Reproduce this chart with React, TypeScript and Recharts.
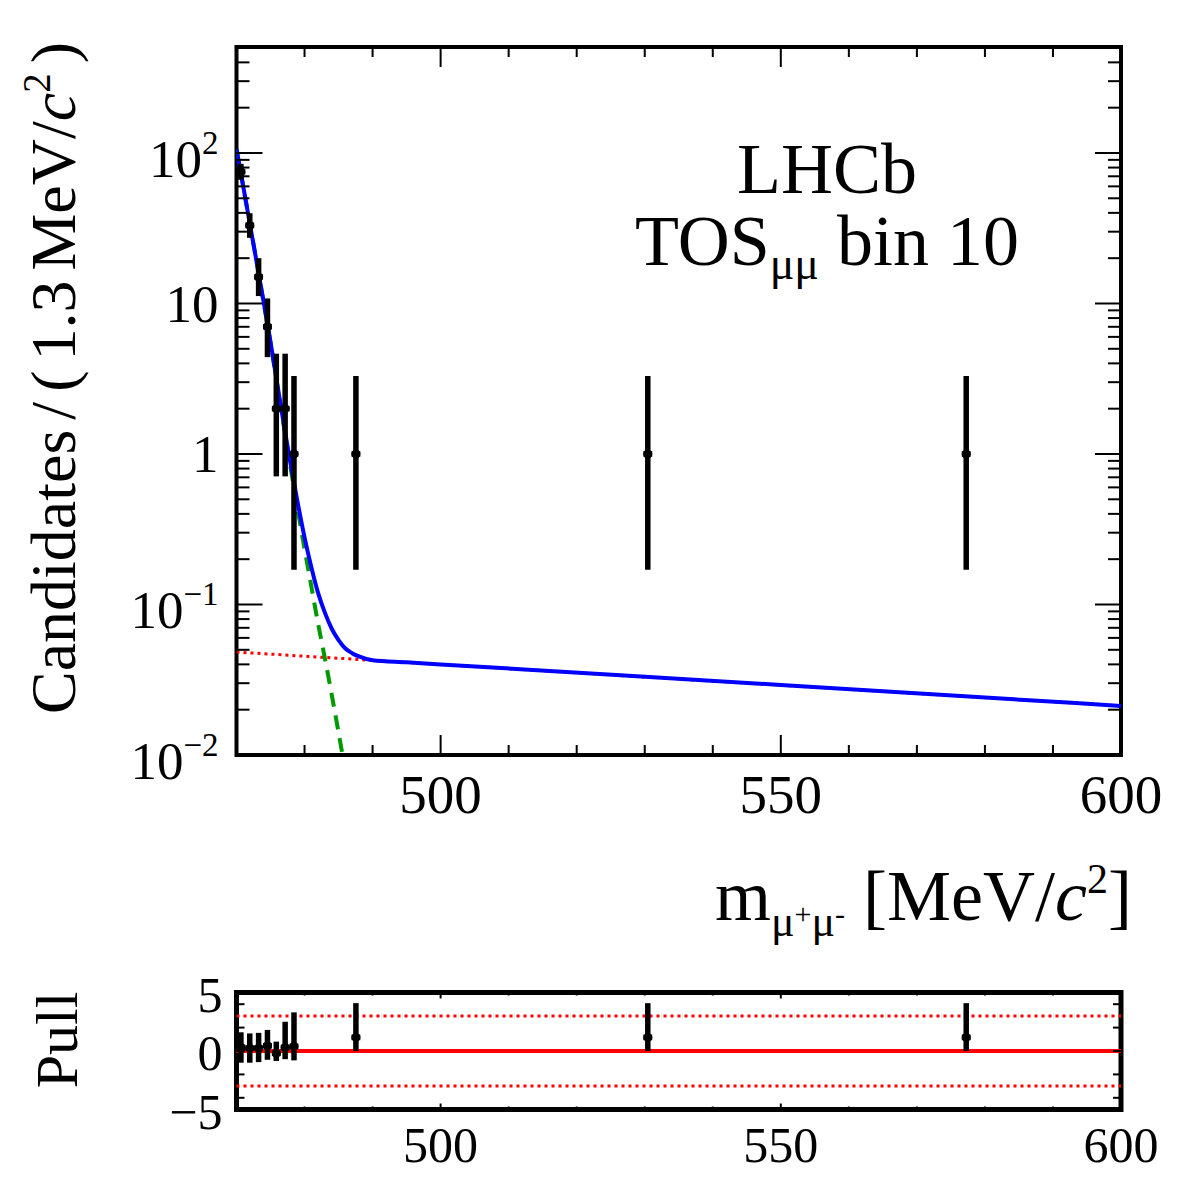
import React from 'react';
import {
  ComposedChart,
  Line,
  Scatter,
  XAxis,
  YAxis,
  ErrorBar,
  ReferenceArea,
  ReferenceLine,
} from 'recharts';

const FONT = '"Liberation Serif", "Times New Roman", Times, serif';

// data: 1.3 MeV bins, only the non-empty ones
const binCentres = [470.65, 471.95, 473.25, 474.55, 475.85, 477.15, 478.45, 487.55, 530.45, 577.25];
const counts = [75, 33, 15, 7, 2, 2, 1, 1, 1, 1];
const countErrLo = [8.6, 5.7, 3.8, 2.6, 1.29, 1.29, 0.83, 0.83, 0.83, 0.83];
const countErrHi = [9.7, 6.8, 5.0, 3.8, 2.64, 2.64, 2.3, 2.3, 2.3, 2.3];
const binHalfWidth = 0.65;

// pulls of the same bins
const pulls = [0.3, 0.25, 0.25, 0.45, -0.2, 0.3, 0.4, 1.16, 1.16, 1.16];
const pullErrLo = [1.3, 1.25, 1.2, 1.2, 0.65, 1.0, 1.2, 1.16, 1.16, 1.16];
const pullErrHi = [1.3, 1.25, 1.3, 1.35, 1.0, 2.2, 2.9, 2.93, 2.93, 2.93];

// fit components
const totalMass = [470, 471, 472, 473, 474, 475, 476, 477, 478, 479, 480, 481, 482, 483, 484, 485, 486, 487, 488, 490, 495, 500, 550, 600];
const totalVal = [106, 59.6, 33.1, 18.4, 10.15, 5.55, 2.9, 1.53, 0.831, 0.473, 0.279, 0.177, 0.119, 0.088, 0.069, 0.058, 0.051, 0.0475, 0.0452, 0.0426, 0.0413, 0.04, 0.0292, 0.0212];
const sigMass = [470, 471, 472, 473, 474, 475, 476, 477, 478, 479, 480, 481, 482, 483, 484, 485, 486, 487];
const sigVal = [106, 59.6, 33.1, 18.4, 10.1, 5.5, 2.85, 1.48, 0.785, 0.427, 0.234, 0.132, 0.0741, 0.0437, 0.0251, 0.0141, 0.0078, 0.0043];
const bkgMass = [470, 600];
const bkgVal = [0.0483, 0.0212];

// axis ticks
const X_TICKS = [470, 480, 490, 500, 510, 520, 530, 540, 550, 560, 570, 580, 590, 600];
const X_LABELLED = [500, 550, 600];
const Y_DECADES = [0.01, 0.1, 1, 10, 100];
const Y_DECADE_LABELS = [['10', '\u22122'], ['10', '\u22121'], ['1', ''], ['10', ''], ['10', '2']];
const Y_MAX = 506;
const PULL_Y_TICKS = [-5, -4, -2, 0, 2, 4, 5];
const PULL_Y_LABELLED = [-5, 0, 5];

const Y_TICKS: number[] = [];
Y_DECADES.forEach((d) => {
  for (let k = 1; k <= 9; k++) {
    const t = Number((d * k).toPrecision(3));
    if (t <= Y_MAX) Y_TICKS.push(t);
  }
});

const points = binCentres.map((m, i) => ({ m, v: counts[i], ey: [countErrLo[i], countErrHi[i]], ex: binHalfWidth }));
const pullPoints = binCentres.map((m, i) => ({ m, v: pulls[i], ey: [pullErrLo[i], pullErrHi[i]], ex: binHalfWidth }));
const totalCurve = totalMass.map((m, i) => ({ m, v: totalVal[i] }));
const sigCurve = sigMass.map((m, i) => ({ m, v: sigVal[i] }));
const bkgCurve = bkgMass.map((m, i) => ({ m, v: bkgVal[i] }));

// geometry (axes get 1px of room so recharts still draws their ticks)
const W = 1182;
const LEFT = 236.5;
const RIGHT = 1121;
const MAIN_TOP = 47;
const MAIN_BOTTOM = 755;
const MAIN_H = MAIN_BOTTOM - MAIN_TOP;
const MAIN_CHART_H = 830;
const PLOT_W = RIGHT - LEFT;
const PULL_Y0 = 960;
const PULL_TOP = 992.5;
const PULL_BOTTOM = 1109.5;
const PULL_H = PULL_BOTTOM - PULL_TOP;
const PULL_CHART_H = 222;

const Marker = (p: any) => <circle cx={p.cx} cy={p.cy} r={4.5} fill="#000" />;

const MainXTick = ({ x, y, payload }: any) => {
  const v = payload.value as number;
  const major = X_LABELLED.includes(v);
  const len = major ? 20 : 10;
  return (
    <g>
      <line x1={x} x2={x} y1={y} y2={y - len} stroke="#000" strokeWidth={2} />
      <line x1={x} x2={x} y1={y - MAIN_H} y2={y - MAIN_H + len} stroke="#000" strokeWidth={2} />
      {major && (
        <text x={x} y={y + 58} textAnchor="middle" fontFamily={FONT} fontSize={55} fill="#000">
          {v}
        </text>
      )}
    </g>
  );
};

const MainYTick = ({ x, y, payload }: any) => {
  const v = payload.value as number;
  const idx = Y_DECADES.findIndex((d) => Math.abs(d - v) / d < 1e-6);
  const major = idx >= 0;
  const len = major ? 26 : 13;
  const lab = major ? Y_DECADE_LABELS[idx] : null;
  return (
    <g>
      <line x1={x} x2={x + len} y1={y} y2={y} stroke="#000" strokeWidth={2} />
      <line x1={x + PLOT_W} x2={x + PLOT_W - len} y1={y} y2={y} stroke="#000" strokeWidth={2} />
      {lab && (
        <text x={x - 18} y={y + (lab[1] ? 24 : 18.5)} textAnchor="end" fontFamily={FONT} fontSize={53} fill="#000">
          {lab[0]}
          {lab[1] && (
            <tspan dy={-23} fontSize={33}>
              {lab[1]}
            </tspan>
          )}
        </text>
      )}
    </g>
  );
};

const PullXTick = ({ x, y, payload }: any) => {
  const v = payload.value as number;
  const major = X_LABELLED.includes(v);
  const len = major ? 6 : 3;
  return (
    <g>
      <line x1={x} x2={x} y1={y} y2={y - len} stroke="#000" strokeWidth={2} />
      <line x1={x} x2={x} y1={y - PULL_H} y2={y - PULL_H + len} stroke="#000" strokeWidth={2} />
      {major && (
        <text x={x} y={y + 52} textAnchor="middle" fontFamily={FONT} fontSize={50} fill="#000">
          {v}
        </text>
      )}
    </g>
  );
};

const PullYTick = ({ x, y, payload }: any) => {
  const v = payload.value as number;
  const edge = Math.abs(v) === 5;
  return (
    <g>
      {!edge && <line x1={x} x2={x + 8} y1={y} y2={y} stroke="#000" strokeWidth={2} />}
      {!edge && <line x1={x + PLOT_W} x2={x + PLOT_W - 8} y1={y} y2={y} stroke="#000" strokeWidth={2} />}
      {PULL_Y_LABELLED.includes(v) && (
        <text x={x - 14} y={y + 19} textAnchor="end" fontFamily={FONT} fontSize={50} fill="#000">
          {v < 0 ? '\u2212' + Math.abs(v) : v}
        </text>
      )}
    </g>
  );
};

const Labels = () => (
  <svg width={W} height={W} style={{ position: 'absolute', left: 0, top: 0, pointerEvents: 'none' }}>
    <g fontFamily={FONT} fill="#000">
      <text x={827} y={193} textAnchor="middle" fontSize={72}>LHCb</text>
      <text x={827} y={265} textAnchor="middle" fontSize={72}>
        TOS
        <tspan dy={14} fontSize={46}>μμ</tspan>
        <tspan dy={-14}> bin 10</tspan>
      </text>
      <text x={1132} y={920} textAnchor="end" fontSize={72}>
        m
        <tspan dy={16} fontSize={44}>μ</tspan>
        <tspan dy={-12} fontSize={30}>+</tspan>
        <tspan dy={12} fontSize={44}>μ</tspan>
        <tspan dy={-12} fontSize={30}>-</tspan>
        <tspan dy={-4}> [MeV/</tspan>
        <tspan fontStyle="italic">c</tspan>
        <tspan dy={-27} fontSize={42}>2</tspan>
        <tspan dy={27}>]</tspan>
      </text>
      <text transform="translate(75,378) rotate(-90)" textAnchor="middle" fontSize={64} wordSpacing={-6}>
        Candidates / ( 1.3 MeV/
        <tspan fontStyle="italic">c</tspan>
        <tspan dy={-25} fontSize={39}>2</tspan>
        <tspan dy={25}> )</tspan>
      </text>
      <text transform="translate(77,1040) rotate(-90)" textAnchor="middle" fontSize={60}>Pull</text>
    </g>
  </svg>
);

const App = () => {
  return (
    <div style={{ position: 'absolute', left: 0, top: 0, width: W, height: W, background: '#fff' }}>
      <div style={{ position: 'absolute', left: 0, top: 0 }}>
        <ComposedChart
          width={W}
          height={MAIN_CHART_H}
          margin={{ top: MAIN_TOP, left: LEFT - 1, right: W - RIGHT, bottom: MAIN_CHART_H - MAIN_BOTTOM - 1 }}
        >
          <XAxis
            dataKey="m"
            type="number"
            domain={[470, 600]}
            allowDataOverflow
            ticks={X_TICKS}
            interval={0}
            height={1}
            tickSize={0}
            tickMargin={0}
            axisLine={false}
            tickLine={false}
            tick={<MainXTick />}
          />
          <YAxis
            dataKey="v"
            type="number"
            scale="log"
            domain={[0.01, Y_MAX]}
            allowDataOverflow
            ticks={Y_TICKS}
            interval={0}
            width={1}
            tickSize={0}
            tickMargin={0}
            axisLine={false}
            tickLine={false}
            tick={<MainYTick />}
          />
          <Line data={bkgCurve} dataKey="v" type="linear" stroke="#ff0000" strokeWidth={3} strokeDasharray="3 4" dot={false} isAnimationActive={false} />
          <Line data={sigCurve} dataKey="v" type="monotone" stroke="#009900" strokeWidth={4} strokeDasharray="14 9" dot={false} isAnimationActive={false} />
          <Line data={totalCurve} dataKey="v" type="monotone" stroke="#0000ff" strokeWidth={4} dot={false} isAnimationActive={false} />
          <Scatter data={points} dataKey="v" isAnimationActive={false} shape={Marker}>
            <ErrorBar dataKey="ey" direction="y" width={0} stroke="#000" strokeWidth={5.5} />
            <ErrorBar dataKey="ex" direction="x" width={0} stroke="#000" strokeWidth={5.5} />
          </Scatter>
          <ReferenceArea x1={470} x2={600} y1={0.01} y2={Y_MAX} fill="none" stroke="#000" strokeWidth={4} />
        </ComposedChart>
      </div>
      <div style={{ position: 'absolute', left: 0, top: PULL_Y0 }}>
        <ComposedChart
          width={W}
          height={PULL_CHART_H}
          margin={{ top: PULL_TOP - PULL_Y0, left: LEFT - 1, right: W - RIGHT, bottom: PULL_CHART_H - (PULL_BOTTOM - PULL_Y0) - 1 }}
        >
          <XAxis
            dataKey="m"
            type="number"
            domain={[470, 600]}
            allowDataOverflow
            ticks={X_TICKS}
            interval={0}
            height={1}
            tickSize={0}
            tickMargin={0}
            axisLine={false}
            tickLine={false}
            tick={<PullXTick />}
          />
          <YAxis
            dataKey="v"
            type="number"
            domain={[-5, 5]}
            allowDataOverflow
            ticks={PULL_Y_TICKS}
            interval={0}
            width={1}
            tickSize={0}
            tickMargin={0}
            axisLine={false}
            tickLine={false}
            tick={<PullYTick />}
          />
          <ReferenceLine y={3} stroke="#ff0000" strokeWidth={3} strokeDasharray="3 4" />
          <ReferenceLine y={-3} stroke="#ff0000" strokeWidth={3} strokeDasharray="3 4" />
          <ReferenceLine y={0} stroke="#ff0000" strokeWidth={4} />
          <Scatter data={pullPoints} dataKey="v" isAnimationActive={false} shape={Marker}>
            <ErrorBar dataKey="ey" direction="y" width={0} stroke="#000" strokeWidth={5.5} />
            <ErrorBar dataKey="ex" direction="x" width={0} stroke="#000" strokeWidth={5.5} />
          </Scatter>
          <ReferenceArea x1={470} x2={600} y1={-5} y2={5} fill="none" stroke="#000" strokeWidth={5} />
        </ComposedChart>
      </div>
      <Labels />
    </div>
  );
};

export default App;
